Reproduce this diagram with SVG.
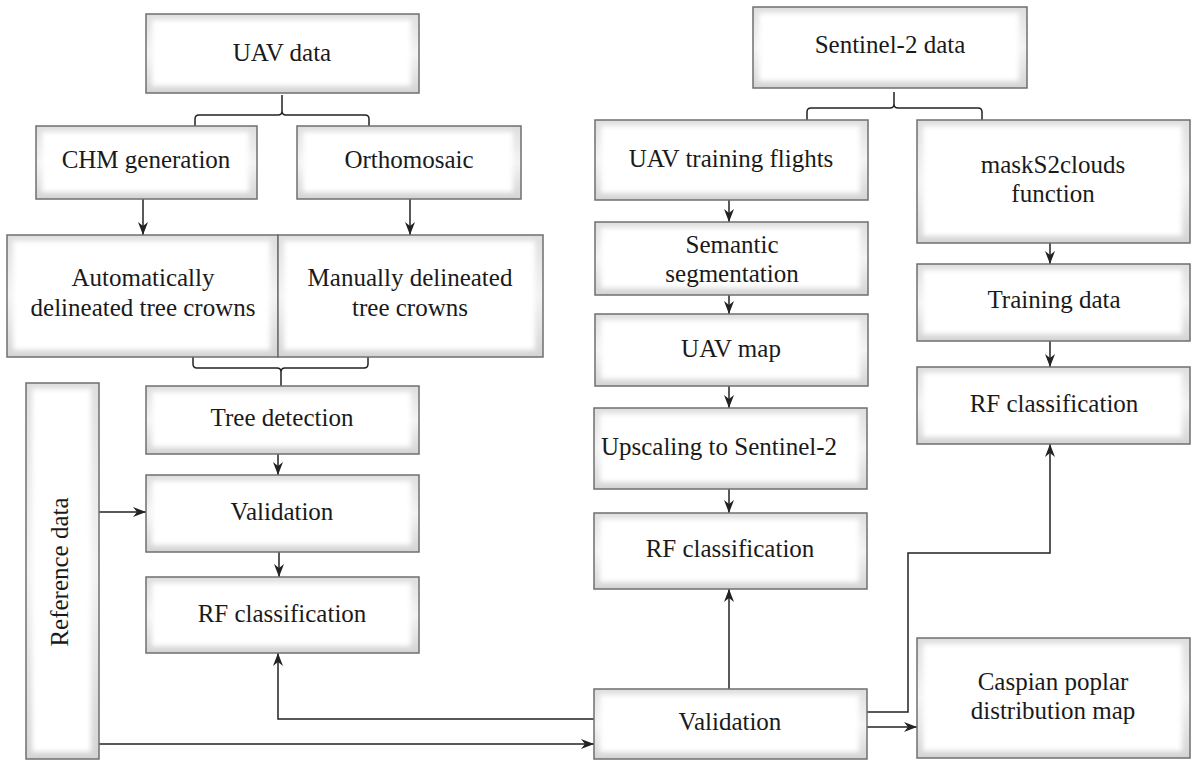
<svg xmlns="http://www.w3.org/2000/svg" width="1191" height="760" viewBox="0 0 1191 760">
<style>
.box{fill:url(#bev);stroke:#6f6f6f;stroke-width:1.5}
.inner{fill:#ffffff;filter:url(#soft)}
.t{font-family:"Liberation Serif","Times New Roman",serif;font-size:25px;fill:#1a1a1a;text-anchor:middle}
.c{fill:none;stroke:#222;stroke-width:1.5}
.a{marker-end:url(#ah)}
</style>
<defs>
<linearGradient id="bev" x1="0" y1="0" x2="0" y2="1">
<stop offset="0" stop-color="#dedede"/>
<stop offset="0.5" stop-color="#f3f3f3"/>
<stop offset="1" stop-color="#d4d4d4"/>
</linearGradient>
<filter id="soft" x="-10%" y="-10%" width="120%" height="120%">
<feGaussianBlur stdDeviation="2.5"/>
</filter>
<marker id="ah" markerUnits="userSpaceOnUse" markerWidth="14" markerHeight="12" refX="13" refY="5" orient="auto" viewBox="0 0 14 10">
<path d="M0,0 L13,5 L0,10 L4,5 z" fill="#222"/>
</marker>
</defs>

<g id="connectors">
<path class="c a" d="M143,199 V235"/>
<path class="c a" d="M410,199 V235"/>
<path class="c a" d="M278,454 V475"/>
<path class="c a" d="M279,552 V577"/>
<path class="c a" d="M99,512 H146"/>
<path class="c a" d="M99,744 H594"/>
<path class="c a" d="M594,719 H278 V653"/>
<path class="c a" d="M729,200 V222"/>
<path class="c a" d="M729,295 V314"/>
<path class="c a" d="M729,386 V408"/>
<path class="c a" d="M729,489 V513"/>
<path class="c a" d="M729,689 V589"/>
<path class="c a" d="M1050,243 V264"/>
<path class="c a" d="M1050,341 V367"/>
<path class="c a" d="M867,712 H908 V553 H1050 V444"/>
<path class="c a" d="M867,727 H917"/>
<path class="c" d="M195,126 V119 Q195,115 199,115 H278 Q282,115 282,111 V95 M369,126 V119 Q369,115 365,115 H286 Q282,115 282,111"/>
<path class="c" d="M193,357 V364 Q193,368 197,368 H277 Q281,368 281,372 V386 M368,357 V364 Q368,368 364,368 H285 Q281,368 281,372"/>
<path class="c" d="M807,120 V112 Q807,108 811,108 H890 Q894,108 894,104 V92 M982,120 V112 Q982,108 978,108 H898 Q894,108 894,104"/>
</g>

<g id="uav-data"><rect class="box" x="146" y="14" width="273" height="79"/><rect class="inner" x="152" y="20" width="259" height="66"/><text class="t" x="282" y="61">UAV data</text></g>
<g id="chm"><rect class="box" x="36" y="126" width="221" height="73"/><rect class="inner" x="42" y="132" width="207" height="60"/><text class="t" x="146" y="168">CHM generation</text></g>
<g id="ortho"><rect class="box" x="297" y="126" width="224" height="73"/><rect class="inner" x="303" y="132" width="210" height="60"/><text class="t" x="409" y="168">Orthomosaic</text></g>
<g id="auto"><rect class="box" x="7" y="235" width="271" height="122"/><rect class="inner" x="13" y="241" width="257" height="109"/><text class="t" x="143" y="286">Automatically</text><text class="t" x="143" y="316">delineated tree crowns</text></g>
<g id="manual"><rect class="box" x="278" y="235" width="265" height="122"/><rect class="inner" x="284" y="241" width="251" height="109"/><text class="t" x="410" y="286">Manually delineated</text><text class="t" x="410" y="316">tree crowns</text></g>
<g id="tree-detection"><rect class="box" x="146" y="386" width="273" height="68"/><rect class="inner" x="152" y="392" width="259" height="55"/><text class="t" x="282" y="426">Tree detection</text></g>
<g id="validation-left"><rect class="box" x="146" y="475" width="273" height="77"/><rect class="inner" x="152" y="481" width="259" height="64"/><text class="t" x="282" y="520">Validation</text></g>
<g id="rf-left"><rect class="box" x="146" y="577" width="273" height="76"/><rect class="inner" x="152" y="583" width="259" height="63"/><text class="t" x="282" y="622">RF classification</text></g>
<g id="reference-data"><rect class="box" x="26" y="383" width="73" height="376"/><rect class="inner" x="32" y="389" width="59" height="363"/><text class="t" transform="translate(68,572) rotate(-90)">Reference data</text></g>

<g id="sentinel-data"><rect class="box" x="753" y="7" width="274" height="81"/><rect class="inner" x="759" y="13" width="260" height="68"/><text class="t" x="890" y="53">Sentinel-2 data</text></g>
<g id="uav-training"><rect class="box" x="595" y="120" width="273" height="80"/><rect class="inner" x="601" y="126" width="259" height="67"/><text class="t" x="731" y="167">UAV training flights</text></g>
<g id="semantic"><rect class="box" x="595" y="222" width="273" height="73"/><rect class="inner" x="601" y="228" width="259" height="60"/><text class="t" x="732" y="253">Semantic</text><text class="t" x="732" y="282">segmentation</text></g>
<g id="uav-map"><rect class="box" x="595" y="314" width="273" height="72"/><rect class="inner" x="601" y="320" width="259" height="59"/><text class="t" x="731" y="357">UAV map</text></g>
<g id="upscaling"><rect class="box" x="594" y="408" width="273" height="81"/><rect class="inner" x="600" y="414" width="259" height="68"/><text class="t" x="719" y="455">Upscaling to Sentinel-2</text></g>
<g id="rf-middle"><rect class="box" x="594" y="513" width="273" height="76"/><rect class="inner" x="600" y="519" width="259" height="63"/><text class="t" x="730" y="557">RF classification</text></g>
<g id="validation-bottom"><rect class="box" x="594" y="689" width="273" height="70"/><rect class="inner" x="600" y="695" width="259" height="57"/><text class="t" x="730" y="730">Validation</text></g>
<g id="masks2clouds"><rect class="box" x="917" y="120" width="273" height="123"/><rect class="inner" x="923" y="126" width="259" height="110"/><text class="t" x="1053" y="173">maskS2clouds</text><text class="t" x="1053" y="202">function</text></g>
<g id="training-data"><rect class="box" x="917" y="264" width="273" height="77"/><rect class="inner" x="923" y="270" width="259" height="64"/><text class="t" x="1054" y="308">Training data</text></g>
<g id="rf-right"><rect class="box" x="917" y="367" width="273" height="77"/><rect class="inner" x="923" y="373" width="259" height="64"/><text class="t" x="1054" y="412">RF classification</text></g>
<g id="caspian"><rect class="box" x="917" y="638" width="273" height="120"/><rect class="inner" x="923" y="644" width="259" height="107"/><text class="t" x="1053" y="690">Caspian poplar</text><text class="t" x="1053" y="719">distribution map</text></g>
</svg>
